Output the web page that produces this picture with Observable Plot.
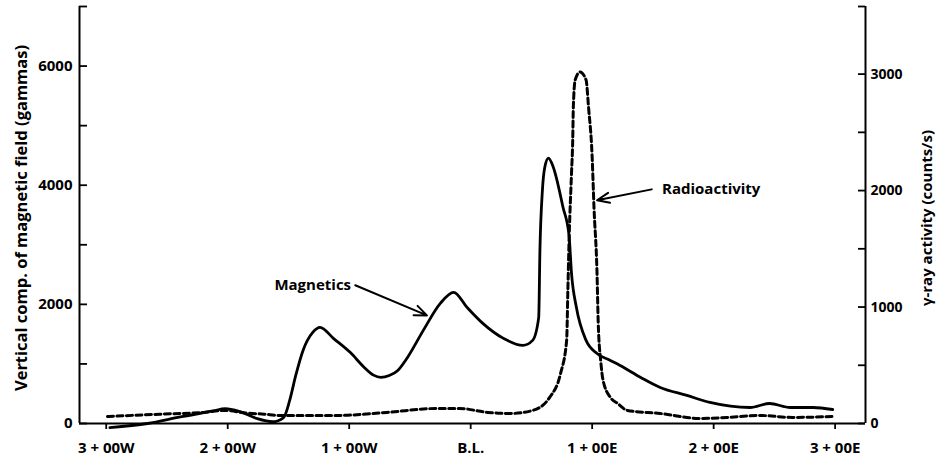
<!DOCTYPE html>
<html><head><meta charset="utf-8">
<script src="https://cdn.jsdelivr.net/npm/d3@7"></script>
<script src="https://cdn.jsdelivr.net/npm/@observablehq/plot@0.6"></script>
<style>body{margin:0;background:#fff} svg{display:block}</style>
</head><body><div id="chart"></div>
<script>
// Station (feet, W negative / E positive relative to base line)
const magX = [-297,-266,-239,-212,-202,-190,-176,-163,-154,-149,-144,-138,-130,-124,-113,-99,-88,-80,-74,-67,-60,-52,-39,-25,-14,-3,10,27,43,51,56,57,59,61,64,68,76,81,83,87,95,104,115,123,140,156,178,197,230,246,263,282,298];
// Vertical component of magnetic field (gammas)
const magY = [-70,0,110,210,250,200,84,30,100,387,807,1227,1529,1613,1430,1190,950,812,775,805,891,1109,1563,2017,2202,1950,1681,1429,1311,1395,1782,2900,3900,4300,4454,4303,3630,3150,2521,1950,1395,1176,1059,975,773,605,471,353,269,336,269,269,235];
const radX = [-299,-256,-220,-202,-185,-170,-157,-110,-69,-28,-9,14,33,51,65,74,79,80,81,83,84,84.5,86,90,95,97,100,101.5,104,105,107,109,115,121,129,156,189,211,238,265,298];
// gamma-ray activity (counts/s)
const radY = [60,80,95,112,90,80,69,69,95,129,129,95,86,112,224,430,714,1144,1574,2150,2433,2717,2949,3018,2949,2717,2287,1857,1290,860,542,370,224,172,112,86,43,52,69,52,60];

const xTickValues = [-300,-200,-100,0,100,200,300];
const xTickLabels = ["3 + 00W","2 + 00W","1 + 00W","B.L.","1 + 00E","2 + 00E","3 + 00E"];
const leftTickValues = [0,2000,4000,6000];
const leftMinorTicks = [1000,3000,5000,7000];
const rightTickValues = [0,1000,2000,3000];
const rightMinorTicks = [500,1500,2500];

const leftTitle = "Vertical comp. of magnetic field (gammas)";
const rightTitle = "γ-ray activity (counts/s)";
const labelNames = ["Magnetics","Radioactivity"];
const labelX = [-130,198];
const labelY = [2320,3930];
const arrowFrom = [[-95,2320],[149,3930]];
const arrowTo = [[-36,1815],[104,3748]];

// layout
const W = 938, H = 459, ml = 79, mr = 73, mt = 6, mb = 36;
const xDom = [-322, 325], yDom = [0, 7000];
const k = 1.955; // right axis (counts/s) -> left axis units
const xPx = (W - ml - mr) / (xDom[1] - xDom[0]);
const yPx = (H - mt - mb) / (yDom[1] - yDom[0]);

const mag = magX.map((x, i) => ({x, y: magY[i]}));
const rad = radX.map((x, i) => ({x, y: radY[i] * k}));
const labels = labelNames.map((t, i) => ({t, x: labelX[i], y: labelY[i]}));
const arrows = arrowFrom.map((f, i) => ({x1: f[0], y1: f[1], x2: arrowTo[i][0], y2: arrowTo[i][1]}));

const font = "'Open Sans', 'Liberation Sans', sans-serif";

const chart = Plot.plot({
  width: W, height: H,
  marginLeft: ml, marginRight: mr, marginTop: mt, marginBottom: mb,
  x: {domain: xDom},
  y: {domain: yDom},
  style: {fontFamily: font, fontWeight: "bold", color: "#000", background: "#fff"},
  marks: [
    Plot.ruleY([0], {x1: xDom[0], x2: xDom[1], strokeWidth: 2}),
    Plot.ruleX([xDom[0]], {y1: 0, y2: yDom[1], strokeWidth: 2}),
    Plot.ruleX([xDom[1]], {y1: 0, y2: yDom[1], strokeWidth: 2}),
    Plot.ruleY([...leftTickValues, ...leftMinorTicks], {x1: xDom[0], x2: xDom[0] + 8 / xPx, strokeWidth: 1.8}),
    Plot.ruleY([...rightTickValues, ...rightMinorTicks].map(v => v * k).concat([yDom[1]]), {x1: xDom[1] - 7 / xPx, x2: xDom[1], strokeWidth: 1.8}),
    Plot.axisX({ticks: xTickValues, tickFormat: d => xTickLabels[xTickValues.indexOf(d)], tickSize: 6, tickPadding: 13, strokeWidth: 1.8, fontSize: 15, label: null}),
    Plot.axisY({anchor: "left", ticks: leftTickValues, tickFormat: d => String(d), tickSize: 0, tickPadding: 7, fontSize: 15, label: null}),
    Plot.axisY({anchor: "right", ticks: rightTickValues.map(v => v * k), tickFormat: d => String(Math.round(d / k)), tickSize: 0, tickPadding: 5, fontSize: 14, label: null}),
    Plot.line(rad, {x: "x", y: "y", curve: "monotone-x", stroke: "#000", strokeWidth: 3, strokeDasharray: "6,3.5"}),
    Plot.line(mag, {x: "x", y: "y", curve: "monotone-x", stroke: "#000", strokeWidth: 2.8}),
    Plot.arrow(arrows, {x1: "x1", y1: "y1", x2: "x2", y2: "y2", strokeWidth: 2, headLength: 10, headAngle: 45}),
    Plot.text(labels, {x: "x", y: "y", text: "t", fontSize: 15, textAnchor: "middle"}),
    Plot.text([leftTitle], {text: d => d, frameAnchor: "left", textAnchor: "middle", rotate: -90, dx: -58, dy: 3, fontSize: 16.5}),
    Plot.text([rightTitle], {text: d => d, frameAnchor: "right", textAnchor: "middle", rotate: -90, dx: 62, dy: 3, fontSize: 15})
  ]
});
document.getElementById("chart").appendChild(chart);
</script>
</body></html>
